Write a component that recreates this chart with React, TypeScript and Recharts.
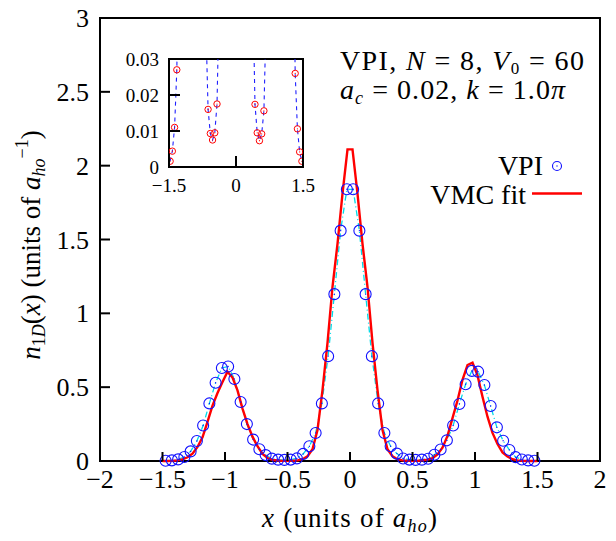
import { ComposedChart, Line, XAxis, YAxis, ReferenceArea } from "recharts";

const FONT = "'Liberation Serif', 'DejaVu Serif', serif";

// VPI density (60 grid points)
const vpiX = [
  -1.475, -1.425, -1.375, -1.325, -1.275, -1.225, -1.175, -1.125, -1.075, -1.025,
  -0.975, -0.925, -0.875, -0.825, -0.775, -0.725, -0.675, -0.625, -0.575, -0.525,
  -0.475, -0.425, -0.375, -0.325, -0.275, -0.225, -0.175, -0.125, -0.075, -0.025,
  0.025, 0.075, 0.125, 0.175, 0.225, 0.275, 0.325, 0.375, 0.425, 0.475,
  0.525, 0.575, 0.625, 0.675, 0.725, 0.775, 0.825, 0.875, 0.925, 0.975,
  1.025, 1.075, 1.125, 1.175, 1.225, 1.275, 1.325, 1.375, 1.425, 1.475,
];
const vpiY = [
  0.0016, 0.0044, 0.011, 0.027, 0.065, 0.135, 0.24, 0.39, 0.53, 0.63,
  0.64, 0.555, 0.4, 0.25, 0.145, 0.08, 0.04, 0.016, 0.0093, 0.0075,
  0.0095, 0.0175, 0.048, 0.1, 0.19, 0.39, 0.71, 1.13, 1.56, 1.84,
  1.84, 1.56, 1.13, 0.71, 0.39, 0.19, 0.1, 0.05, 0.0174, 0.0095,
  0.0073, 0.0092, 0.0156, 0.042, 0.078, 0.14, 0.24, 0.386, 0.52, 0.61,
  0.605, 0.515, 0.372, 0.228, 0.137, 0.075, 0.026, 0.0106, 0.0042, 0.0016,
];

// VMC fit curve
const vmcX = [
  -1.5, -1.46, -1.42, -1.38, -1.34, -1.3, -1.26, -1.22, -1.18, -1.14,
  -1.1, -1.06, -1.02, -0.98, -0.94, -0.9, -0.86, -0.82, -0.78, -0.74,
  -0.7, -0.66, -0.62, -0.58, -0.54, -0.5, -0.46, -0.42, -0.38, -0.34,
  -0.3, -0.26, -0.22, -0.18, -0.14, -0.1, -0.06, -0.02, 0.02, 0.06,
  0.1, 0.14, 0.18, 0.22, 0.26, 0.3, 0.34, 0.38, 0.42, 0.46,
  0.5, 0.54, 0.58, 0.62, 0.66, 0.7, 0.74, 0.78, 0.82, 0.86,
  0.9, 0.94, 0.98, 1.02, 1.06, 1.1, 1.14, 1.18, 1.22, 1.26,
  1.3, 1.34, 1.38, 1.42, 1.46, 1.5,
];
const vmcY = [
  0, 0, 0.001, 0.004, 0.011, 0.025, 0.05, 0.095, 0.16, 0.265,
  0.375, 0.46, 0.535, 0.605, 0.565, 0.478, 0.355, 0.25, 0.165, 0.1,
  0.048, 0.02, 0.008, 0.003, 0.001, 0.001, 0.002, 0.004, 0.012, 0.032,
  0.08, 0.21, 0.48, 0.8, 1.18, 1.47, 1.81, 2.11, 2.11, 1.81,
  1.47, 1.18, 0.8, 0.48, 0.21, 0.08, 0.032, 0.012, 0.004, 0.002,
  0.001, 0.002, 0.004, 0.009, 0.02, 0.045, 0.09, 0.17, 0.29, 0.41,
  0.55, 0.65, 0.666, 0.58, 0.435, 0.3, 0.19, 0.115, 0.058, 0.03,
  0.012, 0.004, 0.001, 0, 0, 0,
];

const mainXTicks = [-2, -1.5, -1, -0.5, 0, 0.5, 1, 1.5, 2];
const mainYTicks = [0, 0.5, 1, 1.5, 2, 2.5, 3];
const insetXTicks = [-1.5, 0, 1.5];
const insetYTicks = [0, 0.01, 0.02, 0.03];

const vpi = vpiX.map((x, i) => ({ x, y: vpiY[i] }));
const vmc = vmcX.map((x, i) => ({ x, y: vmcY[i] }));

const fmt = (v: number) => (v < 0 ? "\u2212" + String(-v) : String(v));

function XTick(props: any) {
  const { x, y, payload, size, len, gap } = props;
  return (
    <g>
      <line x1={x} x2={x} y1={y} y2={y - len} stroke="#000" strokeWidth={2} />
      <text x={x} y={y + gap} textAnchor="middle" fontSize={size} fontFamily={FONT} fill="#000">
        {fmt(payload.value)}
      </text>
    </g>
  );
}

function YTick(props: any) {
  const { x, y, payload, size, len, gap } = props;
  return (
    <g>
      <line x1={x} x2={x + len} y1={y} y2={y} stroke="#000" strokeWidth={2} />
      <text x={x - gap} y={y} dy="0.35em" textAnchor="end" fontSize={size} fontFamily={FONT} fill="#000">
        {fmt(payload.value)}
      </text>
    </g>
  );
}

function VpiDot(props: any) {
  const { cx, cy } = props;
  if (cx == null || cy == null) return null;
  return (
    <g>
      <circle cx={cx} cy={cy} r={5.5} fill="none" stroke="#1010ff" strokeWidth={1.1} />
      <circle cx={cx} cy={cy} r={0.7} fill="#1010ff" />
    </g>
  );
}

function InsetDot(props: any) {
  const { cx, cy } = props;
  if (cx == null || cy == null) return null;
  return (
    <g>
      <circle cx={cx} cy={cy} r={3.2} fill="none" stroke="#ff0000" strokeWidth={1} />
      <circle cx={cx} cy={cy} r={0.6} fill="#ff0000" />
    </g>
  );
}

export default function App() {
  return (
    <div style={{ position: "absolute", left: 0, top: 0, width: 616, height: 541, background: "#fff" }}>
      <ComposedChart width={616} height={541} margin={{ top: 18, right: 16, bottom: 0, left: 0 }}>
        <XAxis
          dataKey="x"
          type="number"
          domain={[-2, 2]}
          ticks={mainXTicks}
          height={80}
          axisLine={false}
          tickLine={false}
          tickSize={0}
          tickMargin={0}
          interval={0}
          tick={<XTick size={26} len={9} gap={27} />}
        />
        <YAxis
          dataKey="y"
          type="number"
          domain={[0, 3]}
          ticks={mainYTicks}
          width={100}
          axisLine={false}
          tickLine={false}
          tickSize={0}
          tickMargin={0}
          interval={0}
          tick={<YTick size={26} len={10} gap={11} />}
        />
        <Line
          data={vpi}
          dataKey="y"
          type="linear"
          stroke="#00dbe8"
          strokeWidth={1.3}
          strokeDasharray="6 3 1 3"
          dot={<VpiDot />}
          isAnimationActive={false}
        />
        <Line
          data={vmc}
          dataKey="y"
          type="linear"
          stroke="#ff0000"
          strokeWidth={2.4}
          dot={false}
          isAnimationActive={false}
        />
        <ReferenceArea x1={-2} x2={2} y1={0} y2={3} fill="none" stroke="#000" strokeWidth={2} />
      </ComposedChart>

      <div style={{ position: "absolute", left: 109, top: 49 }}>
        <ComposedChart width={230} height={160} margin={{ top: 10, right: 36, bottom: 0, left: 0 }}>
          <XAxis
            dataKey="x"
            type="number"
            domain={[-1.5, 1.5]}
            ticks={insetXTicks}
            height={42}
            axisLine={false}
            tickLine={false}
            tickSize={0}
            tickMargin={0}
            interval={0}
            allowDataOverflow
            tick={<XTick size={19} len={11} gap={25} />}
          />
          <YAxis
            dataKey="y"
            type="number"
            domain={[0, 0.03]}
            ticks={insetYTicks}
            width={60}
            axisLine={false}
            tickLine={false}
            tickSize={0}
            tickMargin={0}
            interval={0}
            allowDataOverflow
            tick={<YTick size={19} len={11} gap={10} />}
          />
          <Line
            data={vpi}
            dataKey="y"
            type="linear"
            stroke="#2020ff"
            strokeWidth={1.1}
            strokeDasharray="4 4"
            dot={<InsetDot />}
            isAnimationActive={false}
          />
          <ReferenceArea x1={-1.5} x2={1.5} y1={0} y2={0.03} fill="none" stroke="#000" strokeWidth={2} />
        </ComposedChart>
      </div>

      <svg
        width={616}
        height={541}
        style={{ position: "absolute", left: 0, top: 0, pointerEvents: "none" }}
        fontFamily={FONT}
        fill="#000"
      >
        <text x={340} y={70} fontSize={28} textLength={244}>
          VPI, <tspan fontStyle="italic">N</tspan> = 8, <tspan fontStyle="italic">V</tspan>
          <tspan fontSize={17} dy={4}>0</tspan>
          <tspan dy={-4}> = 60</tspan>
        </text>
        <text x={340} y={99} fontSize={28} textLength={225}>
          <tspan fontStyle="italic">a</tspan>
          <tspan fontSize={18} fontStyle="italic" dy={5}>c</tspan>
          <tspan dy={-5}> = 0.02, </tspan>
          <tspan fontStyle="italic">k</tspan> = 1.0<tspan fontStyle="italic">π</tspan>
        </text>

        <text x={543} y={175} fontSize={28} textAnchor="end">VPI</text>
        <circle cx={557} cy={166} r={4.5} fill="none" stroke="#1010ff" strokeWidth={1.1} />
        <circle cx={557} cy={166} r={0.7} fill="#1010ff" />
        <text x={526} y={204} fontSize={28} textAnchor="end">VMC fit</text>
        <line x1={532} x2={582} y1={193.5} y2={193.5} stroke="#ff0000" strokeWidth={2.4} />

        <text x={262} y={527} fontSize={27} textLength={175}>
          <tspan fontStyle="italic">x</tspan> (units of <tspan fontStyle="italic">a</tspan>
          <tspan fontSize={18} fontStyle="italic" dy={5}>ho</tspan>
          <tspan dy={-5}>)</tspan>
        </text>

        <text x={40} y={245} fontSize={27} textAnchor="middle" transform="rotate(-90 40 245)">
          <tspan fontStyle="italic">n</tspan>
          <tspan fontSize={18} dy={5}>1</tspan>
          <tspan fontSize={18} fontStyle="italic">D</tspan>
          <tspan dy={-5}>(</tspan>
          <tspan fontStyle="italic">x</tspan>)  (units of <tspan fontStyle="italic">a</tspan>
          <tspan fontSize={18} fontStyle="italic" dy={5}>ho</tspan>
          <tspan fontSize={18} dy={-17}>−1</tspan>
          <tspan dy={12}>)</tspan>
        </text>
      </svg>
    </div>
  );
}
